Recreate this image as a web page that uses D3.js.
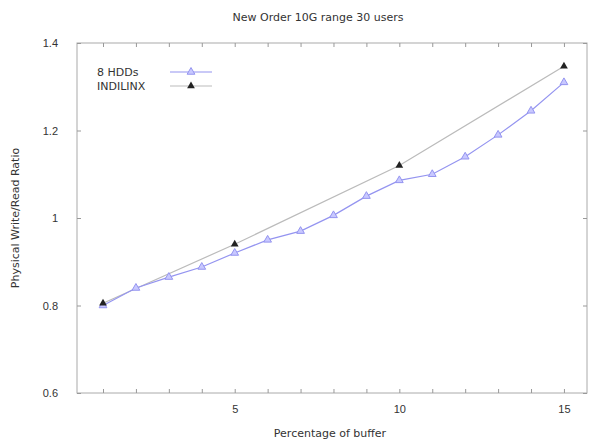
<!DOCTYPE html>
<html>
<head>
<meta charset="utf-8">
<script src="https://cdn.jsdelivr.net/npm/d3@7"></script>
<style>
  body { margin: 0; background: #fff; }
  svg { font-family: "DejaVu Sans", sans-serif; }
  .axis text { fill: #333; font-size: 11px; }
  .axis path, .axis line { stroke: #999; }
</style>
</head>
<body>
<div id="chart"></div>
<script>
/* ── DATA ── */
const hddX   = [1,2,3,4,5,6,7,8,9,10,11,12,13,14,15];
const hddY   = [0.80,0.84,0.865,0.888,0.92,0.95,0.97,1.006,1.05,1.086,1.10,1.14,1.19,1.245,1.31];
const indiX  = [1,5,10,15];
const indiY  = [0.805,0.94,1.12,1.347];
const xTicks = [5,10,15];
const yTicks = [0.6,0.8,1,1.2,1.4];

const W = 589, H = 442;
const margin = { top: 43, right: 2, bottom: 49, left: 77 };
const iW = W - margin.left - margin.right;
const iH = H - margin.top - margin.bottom;

const x = d3.scaleLinear().domain([0.21, 15.7]).range([0, iW]);
const y = d3.scaleLinear().domain([0.6, 1.4]).range([iH, 0]);

const svg = d3.select('#chart').append('svg').attr('width', W).attr('height', H);
const g = svg.append('g').attr('transform', `translate(${margin.left},${margin.top})`);

// frame
g.append('rect').attr('width', iW).attr('height', iH)
  .attr('fill', 'none').attr('stroke', '#aaa');

// inward ticks (all four sides)
const minorX = d3.range(1, 16);
g.append('g').attr('class', 'axis').attr('transform', `translate(0,${iH})`)
  .call(d3.axisTop(x).tickValues(minorX).tickSize(4).tickFormat(''))
  .call(a => a.select('.domain').remove());
g.append('g').attr('class', 'axis')
  .call(d3.axisBottom(x).tickValues(minorX).tickSize(4).tickFormat(''))
  .call(a => a.select('.domain').remove());
g.append('g').attr('class', 'axis')
  .call(d3.axisRight(y).tickValues(yTicks).tickSize(4).tickFormat(''))
  .call(a => a.select('.domain').remove());
g.append('g').attr('class', 'axis').attr('transform', `translate(${iW},0)`)
  .call(d3.axisLeft(y).tickValues(yTicks).tickSize(4).tickFormat(''))
  .call(a => a.select('.domain').remove());

// tick labels
g.append('g').attr('class', 'axis').attr('transform', `translate(0,${iH})`)
  .call(d3.axisBottom(x).tickValues(xTicks).tickSize(0).tickPadding(12).tickFormat(d3.format('d')))
  .call(a => a.select('.domain').remove());
g.append('g').attr('class', 'axis')
  .call(d3.axisLeft(y).tickValues(yTicks).tickSize(0).tickPadding(19).tickFormat(d => d === 1 ? '1' : d3.format('.1f')(d)))
  .call(a => a.select('.domain').remove());

// lines
const hdd  = hddX.map((v, i) => ({ x: v, y: hddY[i] }));
const indi = indiX.map((v, i) => ({ x: v, y: indiY[i] }));
const line = d3.line().x(d => x(d.x)).y(d => y(d.y));
const tri  = d3.symbol().type(d3.symbolTriangle).size(26);

g.append('path').datum(indi).attr('d', line)
  .attr('fill', 'none').attr('stroke', '#bbb').attr('stroke-width', 1.2);
g.append('path').datum(hdd).attr('d', line)
  .attr('fill', 'none').attr('stroke', '#9494f0').attr('stroke-width', 1.2);

g.selectAll('.hdd').data(hdd).enter().append('path')
  .attr('transform', d => `translate(${x(d.x)},${y(d.y)})`)
  .attr('d', tri).attr('fill', '#c8c8ff').attr('stroke', '#9494f0');
g.selectAll('.indi').data(indi).enter().append('path')
  .attr('transform', d => `translate(${x(d.x)},${y(d.y)})`)
  .attr('d', tri).attr('fill', '#222');

// legend
const lg = svg.append('g').attr('font-size', 11).attr('fill', '#333');
lg.append('text').attr('x', 97).attr('y', 76).text('8 HDDs');
lg.append('text').attr('x', 97).attr('y', 90).text('INDILINX');
lg.append('line').attr('x1', 170).attr('x2', 212).attr('y1', 72).attr('y2', 72)
  .attr('stroke', '#9494f0').attr('stroke-width', 1.2);
lg.append('path').attr('transform', 'translate(191,72)').attr('d', tri)
  .attr('fill', '#c8c8ff').attr('stroke', '#9494f0');
lg.append('line').attr('x1', 170).attr('x2', 212).attr('y1', 86).attr('y2', 86)
  .attr('stroke', '#bbb').attr('stroke-width', 1.2);
lg.append('path').attr('transform', 'translate(191,86)').attr('d', tri).attr('fill', '#222');

// titles
svg.append('text').attr('x', 318).attr('y', 21).attr('text-anchor', 'middle')
  .attr('font-size', 11).attr('fill', '#333').text('New Order 10G range 30 users');
svg.append('text').attr('x', 330).attr('y', 437).attr('text-anchor', 'middle')
  .attr('font-size', 11).attr('fill', '#333').text('Percentage of buffer');
svg.append('text').attr('transform', 'translate(19,218) rotate(-90)').attr('text-anchor', 'middle')
  .attr('font-size', 11).attr('fill', '#333').text('Physical Write/Read Ratio');
</script>
</body>
</html>
